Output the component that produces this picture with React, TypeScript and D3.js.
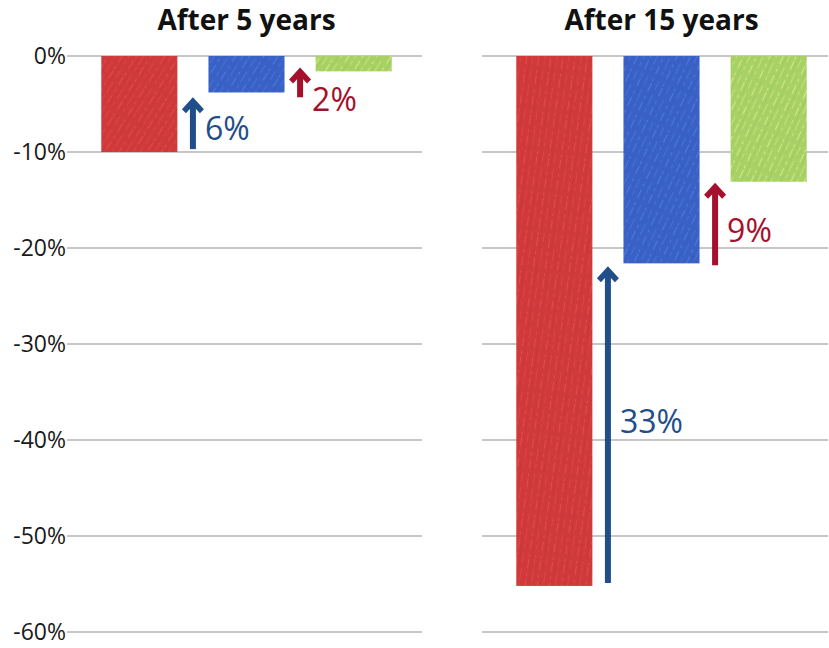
import React from 'react';
import * as d3 from 'd3';

// chart data
const panelTitles = ['After 5 years', 'After 15 years'];
const barKeys = ['first', 'second', 'third'];
const values5 = [-10, -3.8, -1.6];
const values15 = [-55.2, -21.6, -13.1];
const yTicks = [0, -10, -20, -30, -40, -50, -60];
const arrowLabels5 = ['6%', '2%'];
const arrowLabels15 = ['33%', '9%'];
const arrowFrom5 = [-9.7, -4.3];
const arrowTo5 = [-4.3, -1.2];
const arrowFrom15 = [-54.9, -21.8];
const arrowTo15 = [-21.9, -13.2];

const barColors = ['#d03a3a', '#3a62c6', '#a8d266'];
const arrowColors = ['#1f4e8a', '#a5102c'];

const width = 829;
const height = 648;
const font = '"Open Sans", "DejaVu Sans", sans-serif';

const y = d3.scaleLinear().domain([-60, 0]).range([632, 56]);

const panels = [
  { title: panelTitles[0], values: values5, labels: arrowLabels5, from: arrowFrom5, to: arrowTo5, x0: 67, x1: 422, tall: false },
  { title: panelTitles[1], values: values15, labels: arrowLabels15, from: arrowFrom15, to: arrowTo15, x0: 482, x1: 828, tall: true },
];

// sketchy crayon-like fill
const Sketch: React.FC<{ id: string; color: string; angle: number }> = ({ id, color, angle }) => {
  const light = d3.color(color)!.brighter(1.1).formatHex();
  const dark = d3.color(color)!.darker(0.4).formatHex();
  return (
    <pattern id={id} width={12} height={40} patternUnits="userSpaceOnUse" patternTransform={`rotate(${angle})`}>
      <rect width={12} height={40} fill={color} />
      <line x1={1.5} y1={0} x2={1.5} y2={40} stroke={light} strokeWidth={0.8} strokeDasharray="9 5 3 4" opacity={0.65} />
      <line x1={4.5} y1={0} x2={4.5} y2={40} stroke={dark} strokeWidth={1} strokeDasharray="14 3 6 2" opacity={0.35} />
      <line x1={7.5} y1={0} x2={7.5} y2={40} stroke={light} strokeWidth={0.6} strokeDasharray="4 6 12 3" opacity={0.55} />
      <line x1={10.2} y1={0} x2={10.2} y2={40} stroke={dark} strokeWidth={0.8} strokeDasharray="7 4 10 5" opacity={0.3} />
    </pattern>
  );
};

const Arrow: React.FC<{ x: number; yFrom: number; yTo: number; color: string }> = ({ x, yFrom, yTo, color }) => {
  const head = d3.path();
  head.moveTo(x, yTo);
  head.lineTo(x + 11, yTo + 12);
  head.lineTo(x + 7, yTo + 16);
  head.lineTo(x, yTo + 8.5);
  head.lineTo(x - 7, yTo + 16);
  head.lineTo(x - 11, yTo + 12);
  head.closePath();
  return (
    <g>
      <line x1={x} x2={x} y1={yFrom} y2={yTo + 6} stroke={color} strokeWidth={6} />
      <path d={head.toString()} fill={color} />
    </g>
  );
};

export default function App() {
  return (
    <svg width={width} height={height} style={{ position: 'absolute', left: 0, top: 0, background: '#fff' }}>
      <defs>
        {barColors.map((c, i) => (
          <Sketch key={`s${i}`} id={`sketch-${i}`} color={c} angle={32} />
        ))}
        {barColors.map((c, i) => (
          <Sketch key={`t${i}`} id={`sketch-tall-${i}`} color={c} angle={i === 0 ? 8 : 25} />
        ))}
      </defs>

      {/* y tick labels */}
      {yTicks.map((t) => (
        <text key={t} x={66} y={y(t)} dy="0.36em" textAnchor="end" fontFamily={font} fontSize={23} fill="#1a1a1a">
          {`${t}%`}
        </text>
      ))}

      {panels.map((p, pi) => {
        const x = d3.scaleBand<string>().domain(barKeys).range([p.x0, p.x0 + 359]).paddingInner(0.29).paddingOuter(0.32);
        const bw = x.bandwidth();
        const gapX = (i: number) => (x(barKeys[i])! + bw + x(barKeys[i + 1])!) / 2;
        const cx = (x(barKeys[0])! + x(barKeys[2])! + bw) / 2;
        return (
          <g key={p.title}>
            <text x={cx} y={30} textAnchor="middle" fontFamily={font} fontWeight="bold" fontSize={28} fill="#111">
              {p.title}
            </text>
            {yTicks.map((t) => (
              <line key={t} x1={p.x0} x2={p.x1} y1={y(t)} y2={y(t)} stroke="#c6c6c6" strokeWidth={2} />
            ))}
            {p.values.map((v, i) => (
              <rect
                key={barKeys[i]}
                x={x(barKeys[i])}
                y={y(0)}
                width={bw}
                height={y(v) - y(0)}
                fill={`url(#${p.tall ? 'sketch-tall-' : 'sketch-'}${i})`}
              />
            ))}
            {p.labels.map((lab, i) => {
              const ax = gapX(i);
              return (
                <g key={lab}>
                  <Arrow x={ax} yFrom={y(p.from[i])} yTo={y(p.to[i])} color={arrowColors[i]} />
                  <text
                    x={ax + 12}
                    y={pi === 0 ? y(p.to[i]) + 43 : pi === 1 && i === 0 ? y(-39.3) : y(p.to[i]) + 59}
                    fontFamily={font}
                    fontSize={32}
                    fill={arrowColors[i]}
                  >
                    {lab}
                  </text>
                </g>
              );
            })}
          </g>
        );
      })}
    </svg>
  );
}
